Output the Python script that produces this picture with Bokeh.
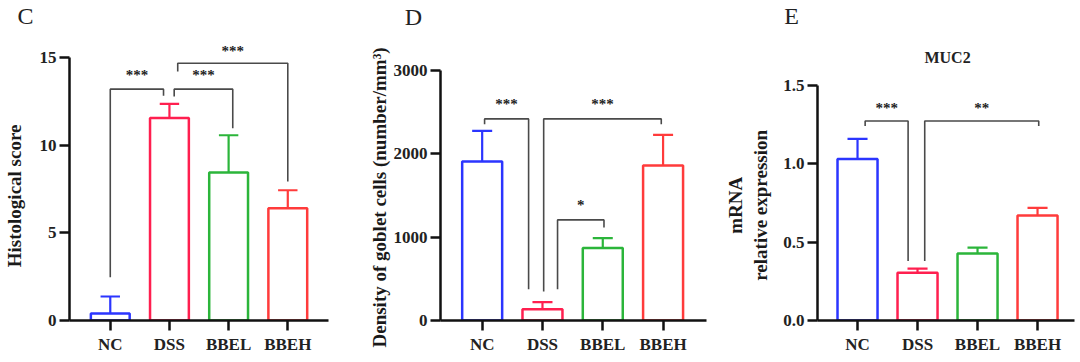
from bokeh.plotting import figure
from bokeh.layouts import row, column
from bokeh.models import FixedTicker, PrintfTickFormatter, Label, Range1d, Title
from bokeh.embed import file_html
from bokeh.resources import INLINE

# ---------------- data ----------------
groups = ["NC", "DSS", "BBEL", "BBEH"]
colors = ["#2b35ff", "#ff1f4f", "#2bb53a", "#ff3b3b"]

hist_mean = [0.40, 11.56, 8.44, 6.40]
hist_sem = [0.97, 0.80, 2.13, 1.03]

goblet_mean = [1908, 136, 871, 1860]
goblet_sem = [367, 84, 117, 367]

muc2_mean = [1.03, 0.304, 0.427, 0.669]
muc2_sem = [0.128, 0.027, 0.038, 0.049]

# comparisons: (group a, group b, label, bracket level, end of leg a, end of leg b, label level)
hist_cmp = [
    (0, 1, "***", 13.2, 2.47, 12.82, 14.0),
    (1, 2, "***", 13.2, 12.78, 10.97, 14.0),
    (1, 3, "***", 14.68, 14.2, 7.93, 15.4),
]
goblet_cmp = [
    (0, 1, "***", 2419, 2356, 376, 2596),
    (1, 3, "***", 2419, 348, 2356, 2596),
    (1, 2, "*", 1207, 376, 1116, 1387),
]
muc2_cmp = [
    (0, 1, "***", 1.271, 1.24, 0.379, 1.356),
    (1, 3, "**", 1.271, 0.379, 1.24, 1.356),
]

panel_letters = ["C", "D", "E"]

SERIF = "Liberation Serif"
NBSP = "\u00a0"
xs = [1, 2, 3, 4]
W = 1076
STRIP_H = 28
PANEL_H = 328


def panel(means, sems, cmps, leg_offsets, ylabel, yticks, yfmt,
          width, left, right, x_range, y_end, bar_w, cap_w, label_standoff,
          title=None, side_title=None):
    p = figure(width=width, height=PANEL_H, output_backend="svg", toolbar_location=None,
               title=None,
               x_range=Range1d(*x_range), y_range=Range1d(0, y_end),
               min_border_left=left, min_border_right=right,
               min_border_top=0, min_border_bottom=36)
    p.outline_line_color = None
    p.grid.visible = False
    p.background_fill_color = "white"

    # bars
    p.vbar(x=xs, top=means, width=bar_w, bottom=0, fill_color="white",
           line_color=colors, line_width=2.5)
    # error bars (upper only)
    tops = [m + s for m, s in zip(means, sems)]
    p.segment(x0=xs, y0=means, x1=xs, y1=tops, line_color=colors, line_width=2.2)
    p.segment(x0=[x - cap_w for x in xs], y0=tops, x1=[x + cap_w for x in xs], y1=tops,
              line_color=colors, line_width=2.2)

    # significance brackets
    bx, by = [], []
    for (a, b, txt, lvl, ea, eb, ly), (oa, ob) in zip(cmps, leg_offsets):
        xa = xs[a] + oa
        xb = xs[b] + ob
        bx.append([xa, xa, xb, xb])
        by.append([ea, lvl, lvl, eb])
        p.add_layout(Label(x=(xa + xb) / 2, y=ly, text=txt, text_font=SERIF,
                           text_font_style="bold", text_font_size="15px",
                           text_align="center", text_baseline="middle",
                           text_color="#222222"))
    p.multi_line(xs=bx, ys=by, line_color="#4a4a4a", line_width=1.6)

    # axes
    p.xaxis.ticker = FixedTicker(ticks=xs)
    p.xaxis.major_label_overrides = {x: g for x, g in zip(xs, groups)}
    p.yaxis.ticker = FixedTicker(ticks=yticks)
    p.yaxis.formatter = PrintfTickFormatter(format=yfmt)
    p.yaxis.bounds = (yticks[0], yticks[-1])
    for ax in (p.xaxis[0], p.yaxis[0]):
        ax.axis_line_width = 2.5
        ax.axis_line_color = "#111111"
        ax.major_tick_line_width = 2.5
        ax.major_tick_line_color = "#111111"
        ax.major_tick_in = 0
        ax.major_tick_out = 10
        ax.minor_tick_line_color = None
        ax.major_label_text_font = SERIF
        ax.major_label_text_font_style = "bold"
        ax.major_label_text_font_size = "17px"
        ax.major_label_text_color = "#222222"
    p.xaxis.major_label_standoff = 4
    p.yaxis.major_label_standoff = 3
    if ylabel is not None:
        p.yaxis.axis_label = ylabel
        p.yaxis.axis_label_text_font = SERIF
        p.yaxis.axis_label_text_font_style = "bold"
        p.yaxis.axis_label_text_font_size = "19px"
        p.yaxis.axis_label_text_color = "#1a1a1a"
        p.yaxis.axis_label_standoff = label_standoff
    if side_title is not None:
        p.add_layout(Title(text=side_title[0], align="left", offset=side_title[1],
                           standoff=side_title[2], text_font=SERIF,
                           text_font_style="bold", text_font_size="19px",
                           text_color="#1a1a1a"), "left")
    if title is not None:
        p.add_layout(Label(x=title[1], y=title[2], text=title[0], text_font=SERIF,
                           text_font_style="bold", text_font_size="16px",
                           text_align="center", text_baseline="middle",
                           text_color="#222222"))
    return p


# strip with the panel letters (screen-like coordinates)
strip = figure(width=W, height=STRIP_H, output_backend="svg", toolbar_location=None,
               title=None, x_range=Range1d(0, W), y_range=Range1d(0, STRIP_H),
               x_axis_location=None, y_axis_location=None,
               min_border_left=0, min_border_right=0, min_border_top=0, min_border_bottom=0)
strip.outline_line_color = None
strip.grid.visible = False
for txt, lx, ly in zip(panel_letters, [25, 413, 791], [13, 12, 13]):
    strip.add_layout(Label(x=lx, y=ly, text=txt, text_font=SERIF, text_font_size="24px",
                           text_align="center", text_baseline="middle",
                           text_color="#222222"))

pC = panel(hist_mean, hist_sem, hist_cmp,
           [(0.0, -0.10), (0.08, 0.07), (0.14, 0.0)],
           "Histological score" + NBSP * 9, [0, 5, 10, 15], "%d",
           340, 61, 12, (0.311, 4.688), 16.66, 0.656, 0.164, 12)

pD = panel(goblet_mean, goblet_sem, goblet_cmp,
           [(0.04, -0.23), (0.02, -0.03), (0.25, 0.02)],
           None, [0, 1000, 2000, 3000], "%d",
           380, 100, 14, (0.309, 4.72), 3504, 0.663, 0.166, 0,
           side_title=("Density of goblet cells (number/mm\u00b3)", -27, 2))

pE = panel(muc2_mean, muc2_sem, muc2_cmp,
           [(0.127, -0.157), (0.12, 0.02)],
           "mRNA" + NBSP * 13 + "\nrelative expression" + NBSP * 13,
           [0, 0.5, 1.0, 1.5], "%.1f",
           356, 97, 2, (0.333, 4.616), 1.861, 0.667, 0.167, 9,
           title=("MUC2", 2.5, 1.678))

layout = column(strip, row(pC, pD, pE))
open("out.html", "w").write(file_html(layout, INLINE))
